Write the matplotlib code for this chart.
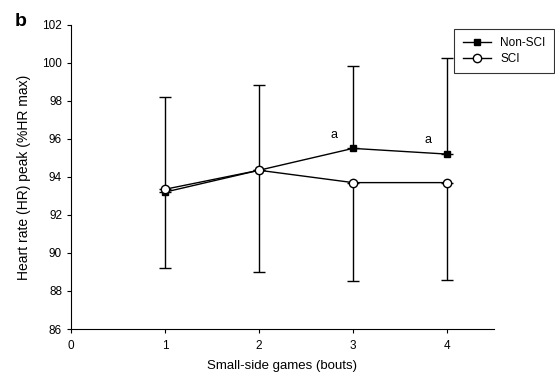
import numpy as np
import matplotlib
matplotlib.use("Agg")
import matplotlib.pyplot as plt

plt.rcParams['font.family'] = ['Liberation Sans', 'DejaVu Sans']

# data
bouts = [1, 2, 3, 4]
non_sci = [93.2, 94.35, 95.5, 95.2]
non_sci_upper = [98.2, 98.85, 99.85, 100.25]
sci = [93.35, 94.35, 93.7, 93.7]
sci_lower = [89.2, 89.0, 88.5, 88.6]
sig_labels = ["", "", "a", "a"]

fig = plt.figure(figsize=(5.55, 3.76), dpi=100)
ax = fig.add_axes([0.128, 0.125, 0.762, 0.809])

non_err = np.array(non_sci_upper) - np.array(non_sci)
sci_err = np.array(sci) - np.array(sci_lower)

# one-sided error bars
ax.errorbar(bouts, non_sci, yerr=[np.zeros(4), non_err], fmt='none',
            ecolor='black', elinewidth=1, capsize=4, capthick=1, zorder=1)
ax.errorbar(bouts, sci, yerr=[sci_err, np.zeros(4)], fmt='none',
            ecolor='black', elinewidth=1, capsize=4, capthick=1, zorder=1)

ax.plot(bouts, non_sci, '-', color='black', marker='s', markersize=5,
        markerfacecolor='black', lw=1, label='Non-SCI', zorder=3)
ax.plot(bouts, sci, '-', color='black', marker='o', markersize=6,
        markerfacecolor='white', lw=1, label='SCI', zorder=4)

for x, y, s in zip(bouts, non_sci, sig_labels):
    if s:
        ax.text(x - 0.2, y + 0.4, s, fontsize=9, ha='center', va='bottom')

ax.set_xlim(0, 4.5)
ax.set_ylim(86, 102)
ax.set_xticks([0, 1, 2, 3, 4])
ax.set_yticks(np.arange(86, 103, 2))
ax.tick_params(direction='out', length=3, width=0.8, labelsize=8.5)
ax.tick_params(axis='x', pad=5)
ax.spines['top'].set_visible(False)
ax.spines['right'].set_visible(False)

ax.set_xlabel("Small-side games (bouts)", fontsize=9.5, labelpad=6)
ax.set_ylabel("Heart rate (HR) peak (%HR max)", fontsize=10, labelpad=8)

leg = ax.legend(loc='upper right', bbox_to_anchor=(0.998, 0.923),
                bbox_transform=fig.transFigure, fontsize=8.5, frameon=True,
                fancybox=False, edgecolor='black', handlelength=2.4,
                borderpad=0.7, labelspacing=0.3, borderaxespad=0)
leg.get_frame().set_linewidth(0.8)

fig.text(0.027, 0.93, "b", fontsize=14, fontweight='bold')

plt.savefig("out.png", dpi=100)
